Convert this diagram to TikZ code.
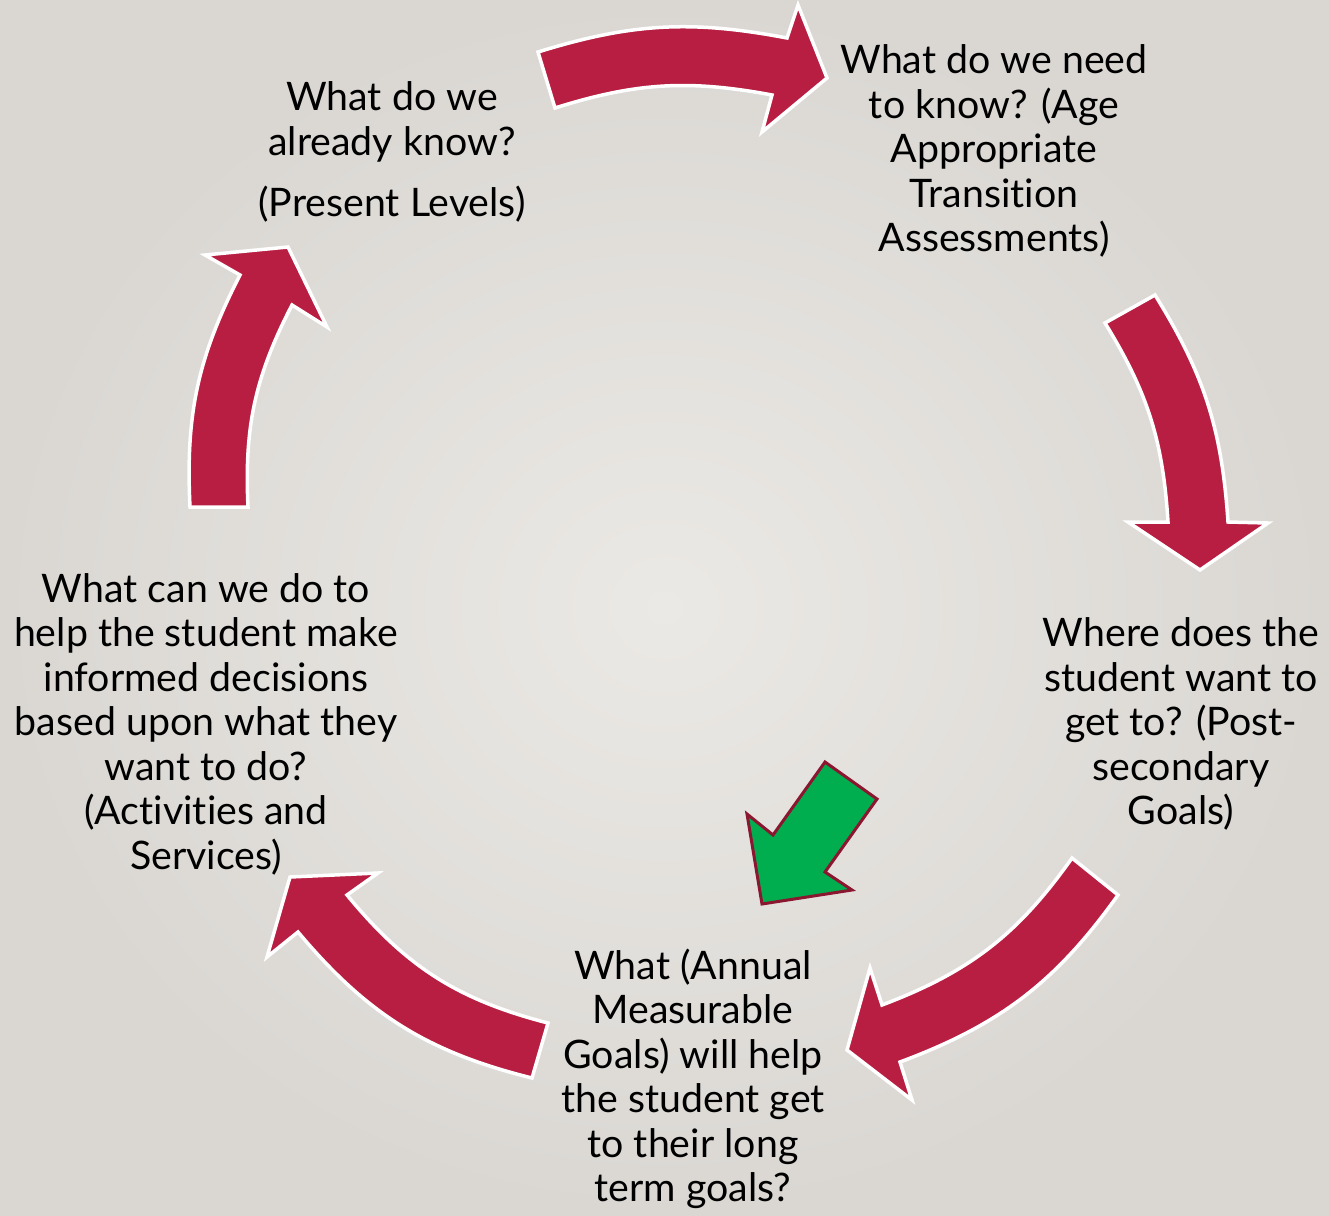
\documentclass[tikz,border=0pt]{standalone}
\usepackage{fontspec}
\setmainfont[Ligatures=NoCommon]{Lato}
\usetikzlibrary{positioning}

\definecolor{arrowred}{RGB}{184,30,65}
\definecolor{arrowgreen}{RGB}{0,174,79}
\definecolor{edgered}{RGB}{139,22,48}
\definecolor{bglight}{RGB}{235,233,229}
\definecolor{bgdark}{RGB}{218,215,211}

\begin{document}
\begin{tikzpicture}[x=1pt, y=-1pt,
    bigarrow/.style={fill=arrowred, draw=white, line width=3.5pt},
    greenarrow/.style={fill=arrowgreen, draw=edgered, line width=3pt},
    txt/.style={align=center, inner sep=0pt, font=\fontsize{39.3}{44.5}\selectfont}]

    \useasboundingbox (0,0) rectangle (1329,1215);
    \shade[inner color=bglight, outer color=bgdark] (0,0) rectangle (1329,1215);

    % the cycle arrows
    \draw[bigarrow] (538,52) to[bend left=14] (787,38) -- (798,5) -- (827,78)
        -- (762,132) -- (772,95) to[bend right=14] (555,108) -- cycle;
    \draw[bigarrow] (1155,295) to[bend left=14] (1228,522) -- (1268,523) -- (1200,570)
        -- (1128,522) -- (1168,522) to[bend right=14] (1105,323) -- cycle;
    \draw[bigarrow] (1118,895) to[bend left=17] (900,1062) -- (912,1100) -- (847,1050)
        -- (870,968) -- (882,1005) to[bend right=17] (1072,858) -- cycle;
    \draw[bigarrow] (532,1078) to[bend left=18] (298,932) -- (267,957) -- (290,877)
        -- (378,873) -- (347,895) to[bend right=18] (548,1023) -- cycle;
    \draw[bigarrow] (190,507) to[bend left=15] (240,275) -- (205,255) -- (288,247)
        -- (327,327) -- (292,305) to[bend right=15] (248,507) -- cycle;

    % green pointer
    \draw[greenarrow] (825,762) -- (877,799) -- (825,872) -- (852,890)
        -- (762,904) -- (747,814) -- (773,835) -- cycle;

    \node[txt] (known) at (392,152) {What do we\\already know?\\[17pt](Present Levels)};
    \node[txt] (need) at (994,151) {What do we need\\to know? (Age\\Appropriate\\Transition\\Assessments)};
    \node[txt] (where) at (1181,724) {Where does the\\student want to\\get to? (Post-\\secondary\\Goals)};
    \node[txt] (annual) at (693,1079) {What (Annual\\Measurable\\Goals) will help\\the student get\\to their long\\term goals?};
    \node[txt] (help) at (206,724) {What can we do to\\help the student make\\informed decisions\\based upon what they\\want to do?\\(Activities and\\Services)};
\end{tikzpicture}
\end{document}
